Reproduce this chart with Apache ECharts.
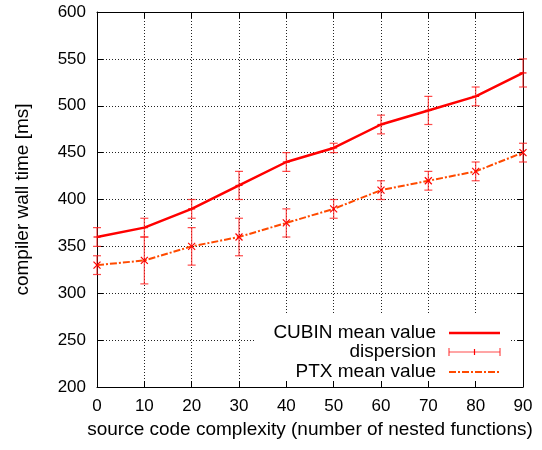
<!DOCTYPE html>
<html>
<head>
<meta charset="utf-8">
<script src="https://cdn.jsdelivr.net/npm/echarts@6/dist/echarts.min.js"></script>
<style>html,body{margin:0;padding:0;background:#fff;}#c{width:542px;height:450px;}</style>
</head>
<body>
<div id="c"></div>
<script>
const complexity = [0, 10, 20, 30, 40, 50, 60, 70, 80, 90];
const cubinMean = [360, 370, 390, 415, 440, 455, 480, 495, 510, 535];
const cubinLow  = [350, 360, 380, 400, 430, 450, 470, 480, 500, 520];
const cubinHigh = [370, 380, 400, 430, 450, 460, 490, 510, 520, 550];
const ptxMean = [330, 335, 350, 360, 375, 390, 410, 420, 430, 450];
const ptxLow  = [320, 310, 330, 340, 360, 380, 400, 410, 420, 440];
const ptxHigh = [340, 360, 370, 380, 390, 400, 420, 430, 440, 460];
const legendLabels = ['CUBIN mean value', 'dispersion', 'PTX mean value'];

const FONT = 'Liberation Sans, Arial, sans-serif';
const RED = '#ff0000';
const ORANGE = '#ff4a00';
const ERR = 'rgba(255,30,30,0.8)';
const TICK_FS = 17;
const NAME_FS = 19;

function pairs(xs, ys){ return xs.map((x,i)=>[x, ys[i]]); }
function errData(lo, hi, mean){ return complexity.map((x,i)=>[x, lo[i], hi[i], mean[i]]); }

function makeErr(cross){
  return function(params, api){
    const x = api.value(0);
    const lo = api.coord([x, api.value(1)]);
    const hi = api.coord([x, api.value(2)]);
    const m = api.coord([x, api.value(3)]);
    const cw = 4;
    const st = {stroke: ERR, lineWidth: 1.2};
    const ch = [
      {type:'line', shape:{x1:lo[0], y1:lo[1], x2:hi[0], y2:hi[1]}, style:st},
      {type:'line', shape:{x1:lo[0]-cw, y1:lo[1], x2:lo[0]+cw, y2:lo[1]}, style:st},
      {type:'line', shape:{x1:hi[0]-cw, y1:hi[1], x2:hi[0]+cw, y2:hi[1]}, style:st}
    ];
    const s = 3.5;
    const mst = {stroke: RED, lineWidth: 1.2};
    if (cross) {
      ch.push({type:'line', shape:{x1:m[0]-s, y1:m[1]-s, x2:m[0]+s, y2:m[1]+s}, style:mst});
      ch.push({type:'line', shape:{x1:m[0]-s, y1:m[1]+s, x2:m[0]+s, y2:m[1]-s}, style:mst});
    } else {
      ch.push({type:'line', shape:{x1:m[0]-s, y1:m[1], x2:m[0]+s, y2:m[1]}, style:mst});
    }
    return {type:'group', children: ch};
  };
}

const axisLabelStyle = {color:'#000', fontFamily: FONT, fontSize: TICK_FS};
const chart = echarts.init(document.getElementById('c'), null, {renderer:'canvas'});

const legX = 436, legLineX1 = 449, legLineX2 = 500;
const legY = [333, 352, 372];
const legFont = NAME_FS + 'px ' + FONT;

chart.setOption({
  animation: false,
  backgroundColor: '#fff',
  grid: {left: 97, right: 19, top: 12, bottom: 63},
  xAxis: [{
    type: 'value', min: 0, max: 90, interval: 10, position: 'bottom',
    name: 'source code complexity (number of nested functions)',
    nameLocation: 'middle', nameGap: 31,
    nameTextStyle: {color:'#000', fontFamily: FONT, fontSize: NAME_FS},
    axisLine: {show: true, onZero: false, lineStyle: {color:'#000', width: 1}},
    axisTick: {show: true, inside: true, length: 6, lineStyle: {color:'#000'}},
    axisLabel: Object.assign({margin: 11}, axisLabelStyle),
    splitLine: {show: true, lineStyle: {color:'#222', width: 1, type: [1, 2]}}
  }, {
    type: 'value', min: 0, max: 90, interval: 10, position: 'top',
    axisLine: {show: true, onZero: false, lineStyle: {color:'#000', width: 1}},
    axisTick: {show: true, inside: true, length: 6, lineStyle: {color:'#000'}},
    axisLabel: {show: false}, splitLine: {show: false}
  }],
  yAxis: [{
    type: 'value', min: 200, max: 600, interval: 50, position: 'left',
    name: 'compiler wall time [ms]',
    nameLocation: 'middle', nameGap: 65,
    nameTextStyle: {color:'#000', fontFamily: FONT, fontSize: NAME_FS},
    axisLine: {show: true, onZero: false, lineStyle: {color:'#000', width: 1}},
    axisTick: {show: true, inside: true, length: 6, lineStyle: {color:'#000'}},
    axisLabel: Object.assign({margin: 11}, axisLabelStyle),
    splitLine: {show: true, lineStyle: {color:'#222', width: 1, type: [1, 2]}}
  }, {
    type: 'value', min: 200, max: 600, interval: 50, position: 'right',
    axisLine: {show: true, onZero: false, lineStyle: {color:'#000', width: 1}},
    axisTick: {show: true, inside: true, length: 6, lineStyle: {color:'#000'}},
    axisLabel: {show: false}, splitLine: {show: false}
  }],
  series: [
    {
      name: legendLabels[0], type: 'line', data: pairs(complexity, cubinMean),
      showSymbol: false, z: 3,
      lineStyle: {color: RED, width: 2.5}
    },
    {
      name: legendLabels[2], type: 'line', data: pairs(complexity, ptxMean),
      showSymbol: false, z: 3,
      lineStyle: {color: ORANGE, width: 2, type: [7, 2, 2, 2]}
    },
    {
      name: legendLabels[1], type: 'custom', renderItem: makeErr(false),
      data: errData(cubinLow, cubinHigh, cubinMean), encode: {x: 0, y: [1, 2]}, z: 4
    },
    {
      name: legendLabels[1], type: 'custom', renderItem: makeErr(true),
      data: errData(ptxLow, ptxHigh, ptxMean), encode: {x: 0, y: [1, 2]}, z: 4
    }
  ],
  graphic: [
    {type: 'rect', shape: {x: 254, y: 313, width: 257, height: 67}, style: {fill: '#fff'}, z: 1},
    {type: 'text', x: legX, y: legY[0], z: 5, style: {text: legendLabels[0], font: legFont, fill: '#000', align: 'right', verticalAlign: 'middle'}},
    {type: 'text', x: legX, y: legY[1], z: 5, style: {text: legendLabels[1], font: legFont, fill: '#000', align: 'right', verticalAlign: 'middle'}},
    {type: 'text', x: legX, y: legY[2], z: 5, style: {text: legendLabels[2], font: legFont, fill: '#000', align: 'right', verticalAlign: 'middle'}},
    {type: 'line', z: 5, shape: {x1: legLineX1, y1: legY[0], x2: legLineX2, y2: legY[0]}, style: {stroke: RED, lineWidth: 2.5}},
    {type: 'line', z: 5, shape: {x1: legLineX1, y1: legY[1], x2: legLineX2, y2: legY[1]}, style: {stroke: ERR, lineWidth: 1.2}},
    {type: 'line', z: 5, shape: {x1: legLineX1, y1: legY[1]-4, x2: legLineX1, y2: legY[1]+4}, style: {stroke: ERR, lineWidth: 1.2}},
    {type: 'line', z: 5, shape: {x1: legLineX2, y1: legY[1]-4, x2: legLineX2, y2: legY[1]+4}, style: {stroke: ERR, lineWidth: 1.2}},
    {type: 'line', z: 5, shape: {x1: (legLineX1+legLineX2)/2, y1: legY[1]-3, x2: (legLineX1+legLineX2)/2, y2: legY[1]+3}, style: {stroke: RED, lineWidth: 1.2}},
    {type: 'line', z: 5, shape: {x1: legLineX1, y1: legY[2], x2: legLineX2, y2: legY[2]}, style: {stroke: ORANGE, lineWidth: 2, lineDash: [7, 2, 2, 2]}}
  ]
});
</script>
</body>
</html>
